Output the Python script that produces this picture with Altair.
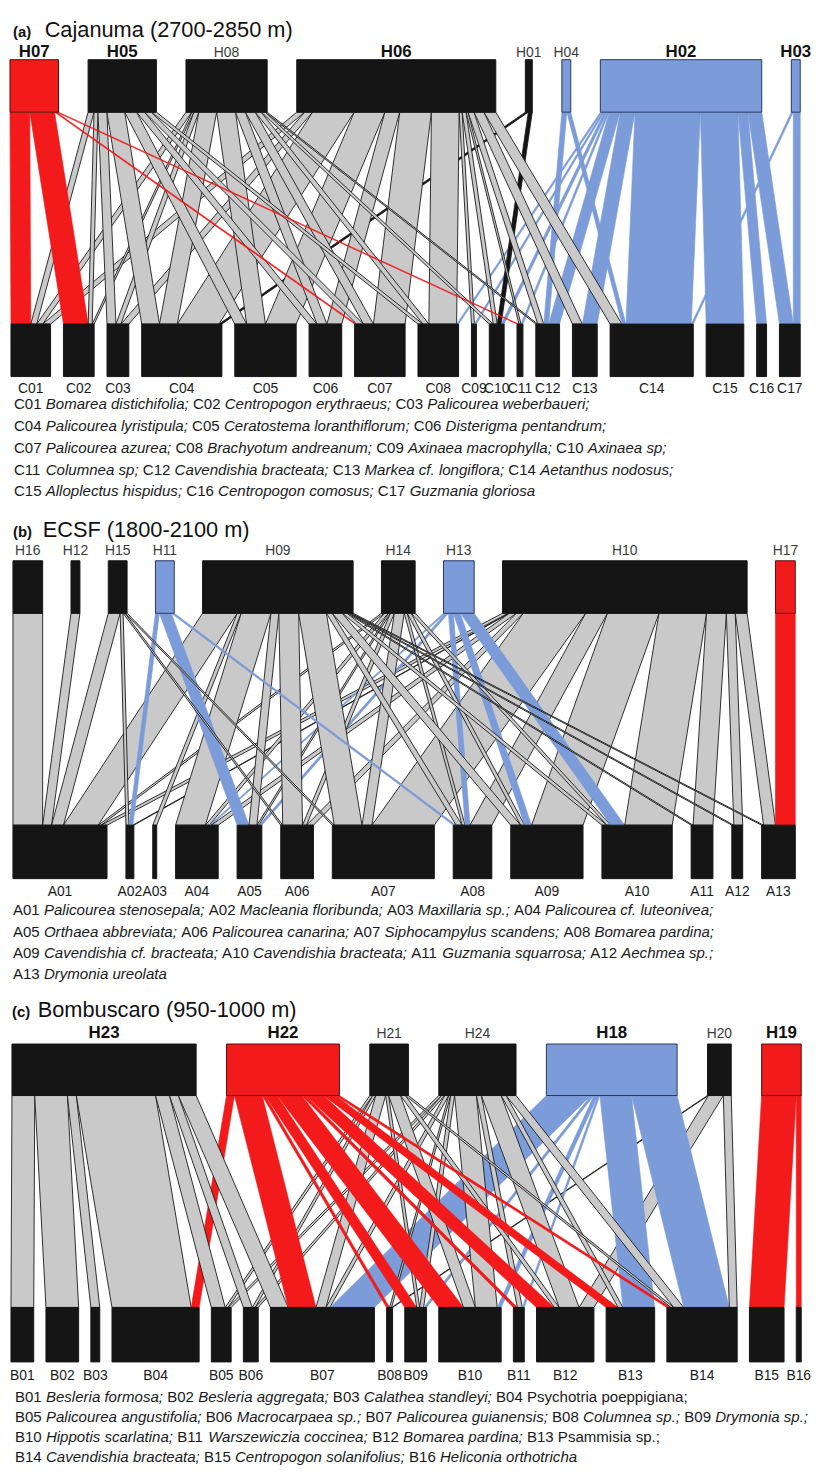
import altair as alt
import pandas as pd

# ===================== DATA =====================
# ---- (a) Cajanuma ----
CAJ_TAG = "(a)"
CAJ_TITLE = "Cajanuma (2700-2850 m)"
CAJ_BIRDS = ["H07", "H05", "H08", "H06", "H01", "H04", "H02", "H03"]
CAJ_GROUP = ["red", "grey", "grey", "grey", "black", "blue", "blue", "blue"]
CAJ_BOLD = [True, True, False, True, False, False, True, True]
CAJ_PLANTS = ["C01", "C02", "C03", "C04", "C05", "C06", "C07", "C08", "C09",
              "C10", "C11", "C12", "C13", "C14", "C15", "C16", "C17"]
CAJ_WEB = {
    "H07": [("C01", 20), ("C02", 25), ("C07", 2), ("C11", 2)],
    "H05": [("C01", 6), ("C02", 4), ("C03", 9), ("C04", 18), ("C05", 12), ("C06", 8), ("C07", 7), ("C08", 5)],
    "H08": [("C01", 6), ("C02", 2), ("C03", 5), ("C04", 18), ("C05", 19), ("C06", 10), ("C07", 10),
            ("C08", 6), ("C10", 4), ("C12", 2)],
    "H06": [("C01", 8), ("C03", 8), ("C04", 42), ("C05", 31), ("C06", 15), ("C07", 32), ("C08", 28),
            ("C09", 3), ("C10", 4), ("C11", 2), ("C12", 6), ("C13", 10), ("C14", 12)],
    "H01": [("C04", 3), ("C10", 4)],
    "H04": [("C12", 5), ("C14", 4)],
    "H02": [("C08", 2), ("C09", 2), ("C10", 3), ("C11", 2), ("C12", 11), ("C13", 15), ("C14", 66),
            ("C15", 38), ("C16", 10), ("C17", 14)],
    "H03": [("C14", 2), ("C17", 7)],
}
CAJ_NAMES = ["Bomarea distichifolia", "Centropogon erythraeus", "Palicourea weberbaueri",
             "Palicourea lyristipula", "Ceratostema loranthiflorum", "Disterigma pentandrum",
             "Palicourea azurea", "Brachyotum andreanum", "Axinaea macrophylla", "Axinaea sp",
             "Columnea sp", "Cavendishia bracteata", "Markea cf. longiflora", "Aetanthus nodosus",
             "Alloplectus hispidus", "Centropogon comosus", "Guzmania gloriosa"]
CAJ_ROMAN = []
CAJ_LINES = [3, 3, 4, 4, 3]

# ---- (b) ECSF ----
ECSF_TAG = "(b)"
ECSF_TITLE = "ECSF (1800-2100 m)"
ECSF_BIRDS = ["H16", "H12", "H15", "H11", "H09", "H14", "H13", "H10", "H17"]
ECSF_GROUP = ["grey", "grey", "grey", "blue", "grey", "grey", "blue", "grey", "red"]
ECSF_BOLD = [False] * 9
ECSF_PLANTS = ["A01", "A02", "A03", "A04", "A05", "A06", "A07", "A08", "A09",
               "A10", "A11", "A12", "A13"]
ECSF_WEB = {
    "H16": [("A01", 30)],
    "H12": [("A01", 9)],
    "H15": [("A01", 12), ("A02", 3), ("A06", 2), ("A07", 2)],
    "H11": [("A02", 4), ("A05", 12), ("A08", 3)],
    "H09": [("A01", 35), ("A03", 4), ("A04", 30), ("A05", 8), ("A06", 20), ("A07", 28), ("A08", 6),
            ("A09", 10), ("A10", 5), ("A11", 2), ("A12", 2), ("A13", 2)],
    "H14": [("A01", 3), ("A04", 4), ("A05", 2), ("A06", 4), ("A07", 10), ("A08", 3), ("A09", 4), ("A10", 4)],
    "H13": [("A04", 2), ("A05", 3), ("A08", 5), ("A09", 7), ("A10", 14)],
    "H10": [("A01", 6), ("A02", 1), ("A04", 7), ("A06", 7), ("A07", 63), ("A08", 22), ("A09", 52),
            ("A10", 48), ("A11", 20), ("A12", 9), ("A13", 12)],
    "H17": [("A13", 20)],
}
ECSF_NAMES = ["Palicourea stenosepala", "Macleania floribunda", "Maxillaria sp.",
              "Palicourea cf. luteonivea", "Orthaea abbreviata", "Palicourea canarina",
              "Siphocampylus scandens", "Bomarea pardina", "Cavendishia cf. bracteata",
              "Cavendishia bracteata", "Guzmania squarrosa", "Aechmea sp.", "Drymonia ureolata"]
ECSF_ROMAN = []
ECSF_LINES = [4, 4, 4, 1]

# ---- (c) Bombuscaro ----
BOM_TAG = "(c)"
BOM_TITLE = "Bombuscaro (950-1000 m)"
BOM_BIRDS = ["H23", "H22", "H21", "H24", "H18", "H20", "H19"]
BOM_GROUP = ["grey", "red", "grey", "grey", "blue", "grey", "red"]
BOM_BOLD = [True, True, False, False, True, False, True]
BOM_PLANTS = ["B01", "B02", "B03", "B04", "B05", "B06", "B07", "B08", "B09",
              "B10", "B11", "B12", "B13", "B14", "B15", "B16"]
BOM_WEB = {
    "H23": [("B01", 23), ("B02", 33), ("B03", 9), ("B04", 80), ("B05", 14), ("B06", 9), ("B07", 18)],
    "H22": [("B04", 8), ("B07", 28), ("B08", 3), ("B09", 12), ("B10", 25), ("B11", 4), ("B12", 18),
            ("B13", 12), ("B14", 4)],
    "H21": [("B05", 3), ("B06", 3), ("B07", 10), ("B09", 3), ("B10", 12), ("B12", 5), ("B14", 3)],
    "H24": [("B05", 3), ("B06", 3), ("B07", 4), ("B08", 2), ("B09", 4), ("B10", 22), ("B11", 5),
            ("B12", 20), ("B13", 5), ("B14", 10)],
    "H18": [("B07", 45), ("B09", 3), ("B10", 4), ("B11", 2), ("B13", 32), ("B14", 46)],
    "H20": [("B08", 1), ("B12", 15), ("B14", 8)],
    "H19": [("B15", 35), ("B16", 5)],
}
BOM_NAMES = ["Besleria formosa", "Besleria aggregata", "Calathea standleyi", "Psychotria poeppigiana",
             "Palicourea angustifolia", "Macrocarpaea sp.", "Palicourea guianensis", "Columnea sp.",
             "Drymonia sp.", "Hippotis scarlatina", "Warszewiczia coccinea", "Bomarea pardina",
             "Psammisia sp.", "Cavendishia bracteata", "Centropogon solanifolius", "Heliconia orthotricha"]
BOM_ROMAN = ["B04", "B13"]
BOM_LINES = [4, 5, 4, 3]

# ===================== STYLE / LAYOUT =====================
FONT = "Liberation Sans"
GREY, BLUE, RED, BLACK = "#c9c9c9", "#7b9bd9", "#f21a1a", "#151515"
LINK_STYLE = {"grey": (GREY, "#1a1a1a", 0.9), "blue": (BLUE, BLUE, 0.6),
              "red": (RED, RED, 0.6), "black": (BLACK, BLACK, 0.8)}
BOX_STYLE = {"grey": (BLACK, BLACK), "black": (BLACK, BLACK),
             "blue": (BLUE, "#27375e"), "red": (RED, "#5a1010")}
LEG_FS = 15.2

PANELS = [
    dict(pid="a", tag=CAJ_TAG, title=CAJ_TITLE, birds=CAJ_BIRDS, group=CAJ_GROUP, bold=CAJ_BOLD,
         plants=CAJ_PLANTS, web=CAJ_WEB, names=CAJ_NAMES, roman=CAJ_ROMAN, lines=CAJ_LINES,
         top=(10, 808, 53, 106), bot=(11, 808, 320, 373), top_lab=50, bot_lab=390,
         title_y=30, tag_x=13, title_x=45, leg_x=14, leg_y=401, leg_dy=22),
    dict(pid="b", tag=ECSF_TAG, title=ECSF_TITLE, birds=ECSF_BIRDS, group=ECSF_GROUP, bold=ECSF_BOLD,
         plants=ECSF_PLANTS, web=ECSF_WEB, names=ECSF_NAMES, roman=ECSF_ROMAN, lines=ECSF_LINES,
         top=(13, 803, 559, 612), bot=(13, 803, 826, 880), top_lab=553, bot_lab=898,
         title_y=535, tag_x=13, title_x=43, leg_x=13, leg_y=912, leg_dy=21.5),
    dict(pid="c", tag=BOM_TAG, title=BOM_TITLE, birds=BOM_BIRDS, group=BOM_GROUP, bold=BOM_BOLD,
         plants=BOM_PLANTS, web=BOM_WEB, names=BOM_NAMES, roman=BOM_ROMAN, lines=BOM_LINES,
         top=(12, 809, 1047, 1099), bot=(11, 809, 1313, 1368), top_lab=1041, bot_lab=1386,
         title_y=1020, tag_x=12, title_x=38, leg_x=15, leg_y=1403, leg_dy=20.5),
]

# Arial / Liberation Sans advance widths (per 1000 em)
CW = {' ': 278, '(': 333, ')': 333, '-': 333, '.': 278, ',': 278, ';': 278, ':': 278}
for ch in "0123456789":
    CW[ch] = 556
CW.update(dict(zip("ABCDEFGHIJKLMNOPQRSTUVWXYZ",
                   [667, 667, 722, 722, 667, 611, 778, 722, 278, 500, 667, 556, 833, 722, 778, 667,
                    778, 722, 667, 611, 722, 667, 944, 667, 667, 611])))
CW.update(dict(zip("abcdefghijklmnopqrstuvwxyz",
                   [556, 556, 500, 556, 556, 278, 556, 556, 222, 222, 500, 222, 833, 556, 556, 556,
                    556, 333, 500, 278, 556, 500, 722, 500, 500, 500])))


def text_width(s, size):
    return sum(CW.get(ch, 556) for ch in s) * size / 1000.0


def vertical_slices(poly):
    """Upper/lower extent of a convex polygon at each vertex x (for a vertical area mark)."""
    xs = sorted(set(round(px, 6) for px, _ in poly))
    out = []
    n = len(poly)
    for xv in xs:
        ys = []
        for k in range(n):
            (px, py), (qx, qy) = poly[k], poly[(k + 1) % n]
            lo, hi = min(px, qx), max(px, qx)
            if lo - 1e-6 <= xv <= hi + 1e-6:
                if abs(qx - px) < 1e-9:
                    ys += [py, qy]
                else:
                    ys.append(py + (xv - px) * (qy - py) / (qx - px))
        out.append((xv, min(ys), max(ys)))
    return out


link_rows, box_rows = [], []
lab_bold, lab_norm, tag_rows, title_rows, leg_roman, leg_ital = [], [], [], [], [], []

for p in PANELS:
    birds, plants, web, pid = p["birds"], p["plants"], p["web"], p["pid"]
    bi = {b: i for i, b in enumerate(birds)}
    pi = {c: i for i, c in enumerate(plants)}
    grp = dict(zip(birds, p["group"]))
    links = [(b, c, w) for b in birds for c, w in web[b]]
    tw = {b: 0 for b in birds}
    bw = {c: 0 for c in plants}
    for b, c, w in links:
        tw[b] += w
        bw[c] += w
    total = sum(tw.values())
    x0t, x1t, yt0, yt1 = p["top"]
    x0b, x1b, yb0, yb1 = p["bot"]
    gt = (x1t - x0t - total) / (len(birds) - 1)
    gb = (x1b - x0b - total) / (len(plants) - 1)
    ts, bs = {}, {}
    x = x0t
    for b in birds:
        ts[b] = x
        x += tw[b] + gt
    x = x0b
    for c in plants:
        bs[c] = x
        x += bw[c] + gb
    top_end, bot_end = {}, {}
    for b in birds:
        x = ts[b]
        for (_, c, w) in sorted([l for l in links if l[0] == b], key=lambda l: pi[l[1]]):
            top_end[(b, c)] = (x, x + w)
            x += w
    for c in plants:
        x = bs[c]
        for (b, _, w) in sorted([l for l in links if l[1] == c], key=lambda l: bi[l[0]]):
            bot_end[(b, c)] = (x, x + w)
            x += w
    order = sorted(links, key=lambda l: (pi[l[1]], bi[l[0]]))
    for k, (b, c, w) in enumerate(order):
        fill, stroke, sw = LINK_STYLE[grp[b]]
        lid = "%s%04d" % (pid, k)
        a1, a2 = top_end[(b, c)]
        b1, b2 = bot_end[(b, c)]
        poly = [(a1, yt1), (a2, yt1), (b2, yb0), (b1, yb0)]
        for xv, ylo, yhi in vertical_slices(poly):
            link_rows.append(dict(lid=lid, x=xv, y=ylo, y2=yhi, fill=fill, stroke=stroke, sw=sw))
    for b, bold in zip(birds, p["bold"]):
        f, s = BOX_STYLE[grp[b]]
        box_rows.append(dict(x=ts[b], x2=ts[b] + tw[b], y=yt0, y2=yt1, fill=f, stroke=s))
        row = dict(x=ts[b] + tw[b] / 2, y=p["top_lab"], text=b)
        if bold:
            row.update(fs=17, col="#111111")
            lab_bold.append(row)
        else:
            row.update(fs=14, col="#3a3a3a")
            lab_norm.append(row)
    for c in plants:
        box_rows.append(dict(x=bs[c], x2=bs[c] + bw[c], y=yb0, y2=yb1, fill=BLACK, stroke=BLACK))
        lab_norm.append(dict(x=bs[c] + bw[c] / 2, y=p["bot_lab"], text=c, fs=14, col="#1a1a1a"))
    tag_rows.append(dict(x=p["tag_x"], y=p["title_y"], text=p["tag"], fs=15, col="#111111"))
    title_rows.append(dict(x=p["title_x"], y=p["title_y"], text=p["title"], fs=22, col="#111111"))
    # legend text
    idx = 0
    n = len(plants)
    for li, cnt in enumerate(p["lines"]):
        y = p["leg_y"] + li * p["leg_dy"]
        x = p["leg_x"]
        for _ in range(cnt):
            code, name = plants[idx], p["names"][idx]
            leg_roman.append(dict(x=x, y=y, text=code, fs=LEG_FS, col="#1a1a1a"))
            x += text_width(code + " ", LEG_FS)
            seg = name + (";" if idx < n - 1 else "")
            row = dict(x=x, y=y, text=seg, fs=LEG_FS, col="#1a1a1a")
            (leg_roman if code in p["roman"] else leg_ital).append(row)
            x += text_width(seg + " ", LEG_FS)
            idx += 1

XS = alt.Scale(domain=[8, 832], nice=False, zero=False)
YS = alt.Scale(domain=[8, 1474], nice=False, zero=False, reverse=True)

links_layer = alt.Chart(pd.DataFrame(link_rows)).mark_area(
    interpolate="linear", strokeJoin="round").encode(
    x=alt.X("x:Q", scale=XS, axis=None),
    y=alt.Y("y:Q", scale=YS, axis=None, stack=None),
    y2="y2:Q",
    detail="lid:N",
    fill=alt.Fill("fill:N", scale=None),
    stroke=alt.Stroke("stroke:N", scale=None),
    strokeWidth=alt.StrokeWidth("sw:Q", scale=None),
)

boxes_layer = alt.Chart(pd.DataFrame(box_rows)).mark_rect(strokeWidth=1).encode(
    x=alt.X("x:Q", scale=XS, axis=None), x2="x2:Q",
    y=alt.Y("y:Q", scale=YS, axis=None), y2="y2:Q",
    fill=alt.Fill("fill:N", scale=None),
    stroke=alt.Stroke("stroke:N", scale=None),
)


def text_layer(rows, weight="normal", style="normal", align="left", baseline="alphabetic"):
    return alt.Chart(pd.DataFrame(rows)).mark_text(
        font=FONT, fontWeight=weight, fontStyle=style, align=align, baseline=baseline).encode(
        x=alt.X("x:Q", scale=XS, axis=None),
        y=alt.Y("y:Q", scale=YS, axis=None),
        text="text:N",
        size=alt.Size("fs:Q", scale=None),
        color=alt.Color("col:N", scale=None),
    )


layers = [
    links_layer,
    boxes_layer,
    text_layer(lab_bold, weight="bold", align="center"),
    text_layer(lab_norm, align="center"),
    text_layer(tag_rows, weight="bold"),
    text_layer(title_rows),
    text_layer(leg_roman, baseline="middle"),
    text_layer(leg_ital, style="italic", baseline="middle"),
]

chart = alt.layer(*layers).properties(
    width=824, height=1466, padding=0,
    autosize=alt.AutoSizeParams(type="none"),
).configure_view(stroke=None)

chart.save("out.html", embed_options={"renderer": "svg", "actions": False})
